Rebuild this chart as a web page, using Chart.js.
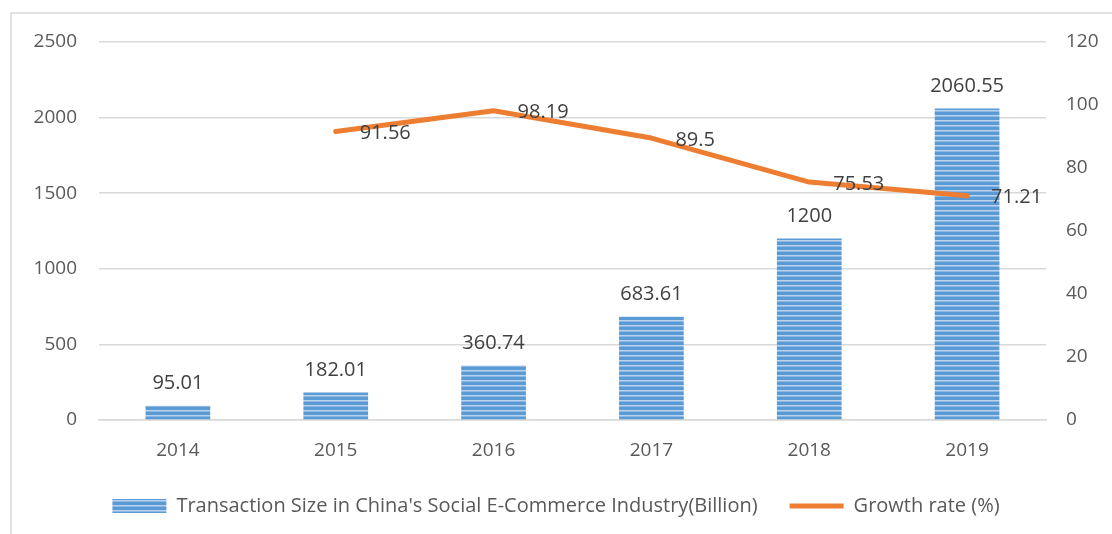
<!DOCTYPE html>
<html>
<head>
<meta charset="utf-8">
<script src="https://cdn.jsdelivr.net/npm/chart.js"></script>
<style>
  html, body { margin: 0; padding: 0; background: #fff; }
  #wrap { width: 1112px; height: 534px; }
</style>
</head>
<body>
<div id="wrap"><canvas id="growthChart" width="1112" height="534"></canvas></div>
<script>
const years = ['2014', '2015', '2016', '2017', '2018', '2019'];
const transactionSize = [95.01, 182.01, 360.74, 683.61, 1200, 2060.55];
const growthRate = [null, 91.56, 98.19, 89.5, 75.53, 71.21];
const leftTicks = [0, 500, 1000, 1500, 2000, 2500];
const rightTicks = [0, 20, 40, 60, 80, 100, 120];

// striped blue fill like the excel bars
function stripePattern() {
    const c = document.createElement('canvas');
    c.width = 4;
    c.height = 5;
    const g = c.getContext('2d');
    g.fillStyle = '#5B9BD5';
    g.fillRect(0, 0, 4, 5);
    g.fillStyle = '#BBD3EF';
    g.fillRect(0, 0, 4, 1.5);
    return g.createPattern(c, 'repeat');
}

const ctx = document.getElementById('growthChart').getContext('2d');
const barFill = stripePattern();

// border of the chart box
const frame = {
    id: 'frame',
    beforeDraw(chart) {
        const c = chart.ctx;
        c.save();
        c.strokeStyle = '#d9d9d9';
        c.lineWidth = 1.5;
        c.strokeRect(11, 13, 1200, 600);
        c.restore();
    }
};

// value labels
const valueLabels = {
    id: 'valueLabels',
    afterDatasetsDraw(chart) {
        const c = chart.ctx;
        c.save();
        c.font = '20px "Open Sans"';
        c.fillStyle = '#404040';
        const bars = chart.getDatasetMeta(0).data;
        c.textAlign = 'center';
        c.textBaseline = 'bottom';
        bars.forEach(function (bar, i) {
            c.fillText(String(transactionSize[i]), bar.x, bar.y - 12);
        });
        const pts = chart.getDatasetMeta(1).data;
        c.textAlign = 'left';
        c.textBaseline = 'middle';
        pts.forEach(function (pt, i) {
            if (growthRate[i] === null) return;
            c.fillText(String(growthRate[i]), pt.x + 24, pt.y + 2);
        });
        c.restore();
    }
};

new Chart(ctx, {
    type: 'bar',
    data: {
        labels: years,
        datasets: [{
            type: 'bar',
            label: "Transaction Size in China's Social E-Commerce Industry(Billion)",
            data: transactionSize,
            backgroundColor: barFill,
            borderWidth: 0,
            barPercentage: 0.41,
            categoryPercentage: 1,
            pointStyle: 'rect',
            yAxisID: 'y',
            order: 2
        }, {
            type: 'line',
            label: 'Growth rate (%)',
            data: growthRate,
            borderColor: '#ED7D31',
            backgroundColor: '#ED7D31',
            borderWidth: 5,
            borderCapStyle: 'round',
            borderJoinStyle: 'round',
            pointRadius: 0,
            pointHoverRadius: 0,
            pointStyle: 'line',
            tension: 0,
            yAxisID: 'y1',
            order: 1
        }]
    },
    options: {
        responsive: false,
        animation: false,
        layout: { padding: { top: 42, bottom: 8, left: 0, right: 0 } },
        plugins: {
            tooltip: { enabled: false },
            legend: {
                position: 'bottom',
                labels: {
                    usePointStyle: true,
                    pointStyleWidth: 54,
                    boxHeight: 14,
                    padding: 32,
                    color: '#595959',
                    font: { family: 'Open Sans', size: 20 },
                    sort: (a, b) => a.datasetIndex - b.datasetIndex
                }
            }
        },
        scales: {
            x: {
                grid: { display: false, drawTicks: false },
                border: { color: '#d9d9d9', width: 1.5 },
                ticks: { color: '#595959', padding: 19, font: { family: 'Open Sans', size: 19 } },
                afterFit(axis) { axis.height = 44; }
            },
            y: {
                position: 'left',
                min: 0,
                max: 2500,
                afterBuildTicks(axis) { axis.ticks = leftTicks.map(v => ({ value: v })); },
                grid: { color: '#d9d9d9', lineWidth: 1.5, drawTicks: false },
                border: { display: false },
                ticks: {
                    color: '#595959', padding: 22, font: { family: 'Open Sans', size: 19 },
                    callback: v => String(v)
                },
                afterFit(axis) { axis.width = 99; }
            },
            y1: {
                position: 'right',
                min: 0,
                max: 120,
                afterBuildTicks(axis) { axis.ticks = rightTicks.map(v => ({ value: v })); },
                grid: { display: false, drawTicks: false },
                border: { display: false },
                ticks: {
                    color: '#595959', padding: 20, font: { family: 'Open Sans', size: 19 },
                    callback: v => String(v)
                },
                afterFit(axis) { axis.width = 66; }
            }
        }
    },
    plugins: [frame, valueLabels]
});
</script>
</body>
</html>
